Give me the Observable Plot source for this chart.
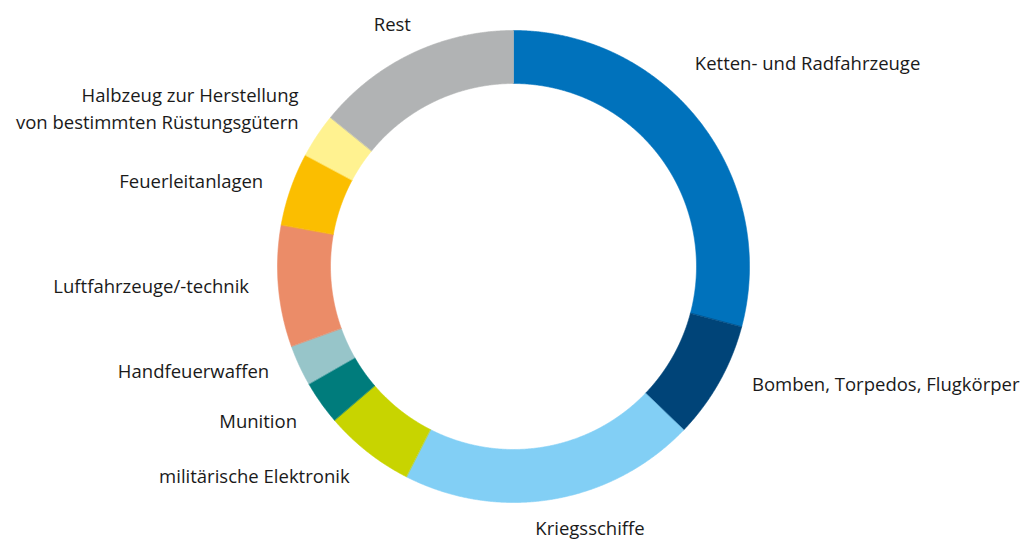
<!DOCTYPE html>
<html><head><meta charset="utf-8">
<script src="https://cdn.jsdelivr.net/npm/d3@7"></script>
<script src="https://cdn.jsdelivr.net/npm/@observablehq/plot@0.6"></script>
<style>
body{margin:0;background:#fff;}
#chart{width:1021px;height:542px;}
#chart svg text{font-family:"Open Sans",sans-serif;}
</style>
</head><body><div id="chart"></div>
<script>
const categories = [
  "Ketten- und Radfahrzeuge",
  "Bomben, Torpedos, Flugkörper",
  "Kriegsschiffe",
  "militärische Elektronik",
  "Munition",
  "Handfeuerwaffen",
  "Luftfahrzeuge/-technik",
  "Feuerleitanlagen",
  "Halbzeug zur Herstellung\nvon bestimmten Rüstungsgütern",
  "Rest"
];
const shares = [29.1, 8.05, 20.3, 6.2, 3.0, 2.8, 8.3, 5.0, 3.05, 14.1];
const colors = ["#0072bc", "#004478", "#82cff5", "#c8d400", "#007c7c", "#97c5c9", "#eb8c68", "#fbbe00", "#fff290", "#b1b3b4"];
const labelAngleNudge = [-11, -3.5, -7.5, 0, 0, 2, 1, 0, 3, -1.8];
const labelRadiusNudge = [9, 0, -4, 0, 0, 0, 0, 0, 3, 0];

const R_OUT = 236, R_IN = 183, R_LABEL = 265;
const total = d3.sum(shares);
let acc = 0;
const slices = categories.map((c, i) => {
  const a0 = acc / total * 2 * Math.PI;
  acc += shares[i];
  const a1 = acc / total * 2 * Math.PI;
  return {c, i, a0, a1};
});
const pts = [];
for (const s of slices) {
  const n = Math.max(2, Math.ceil((s.a1 - s.a0) / 0.004));
  for (let k = 0; k <= n; k++) {
    const a = s.a0 + (s.a1 - s.a0) * k / n;
    pts.push({c: s.c, x: R_OUT * Math.sin(a), y: R_OUT * Math.cos(a)});
  }
  for (let k = n; k >= 0; k--) {
    const a = s.a0 + (s.a1 - s.a0) * k / n;
    pts.push({c: s.c, x: R_IN * Math.sin(a), y: R_IN * Math.cos(a)});
  }
}
const labels = slices.map(s => {
  const a = (s.a0 + s.a1) / 2 + labelAngleNudge[s.i] * Math.PI / 180;
  const r = R_LABEL + labelRadiusNudge[s.i];
  const sx = Math.sin(a), cy = Math.cos(a);
  let anchor = sx > 0.5 ? "start" : sx < -0.5 ? "end" : "middle";
  let lineAnchor = "middle";
  if (anchor === "middle") lineAnchor = cy > 0 ? "bottom" : "top";
  return {c: s.c, x: r * sx, y: r * cy, anchor, lineAnchor};
});

const chart = Plot.plot({
  width: 1021, height: 542,
  margin: 0,
  x: {domain: [-513, 508], axis: null},
  y: {domain: [-276, 266], axis: null},
  color: {domain: categories, range: colors},
  marks: [
    Plot.line(pts, {x: "x", y: "y", z: "c", fill: "c", stroke: "c", strokeWidth: 0.6, curve: "linear-closed"}),
    ...["start", "end", "middle"].flatMap(anc => ["middle", "top", "bottom"].map(la =>
      Plot.text(labels.filter(d => d.anchor === anc && d.lineAnchor === la), {
        x: "x", y: "y", text: "c", textAnchor: anc, lineAnchor: la,
        fontSize: 18.5, fill: "#1a1a1a", lineHeight: 1.46
      })))
  ]
});
document.getElementById("chart").appendChild(chart);
</script>
</body></html>
